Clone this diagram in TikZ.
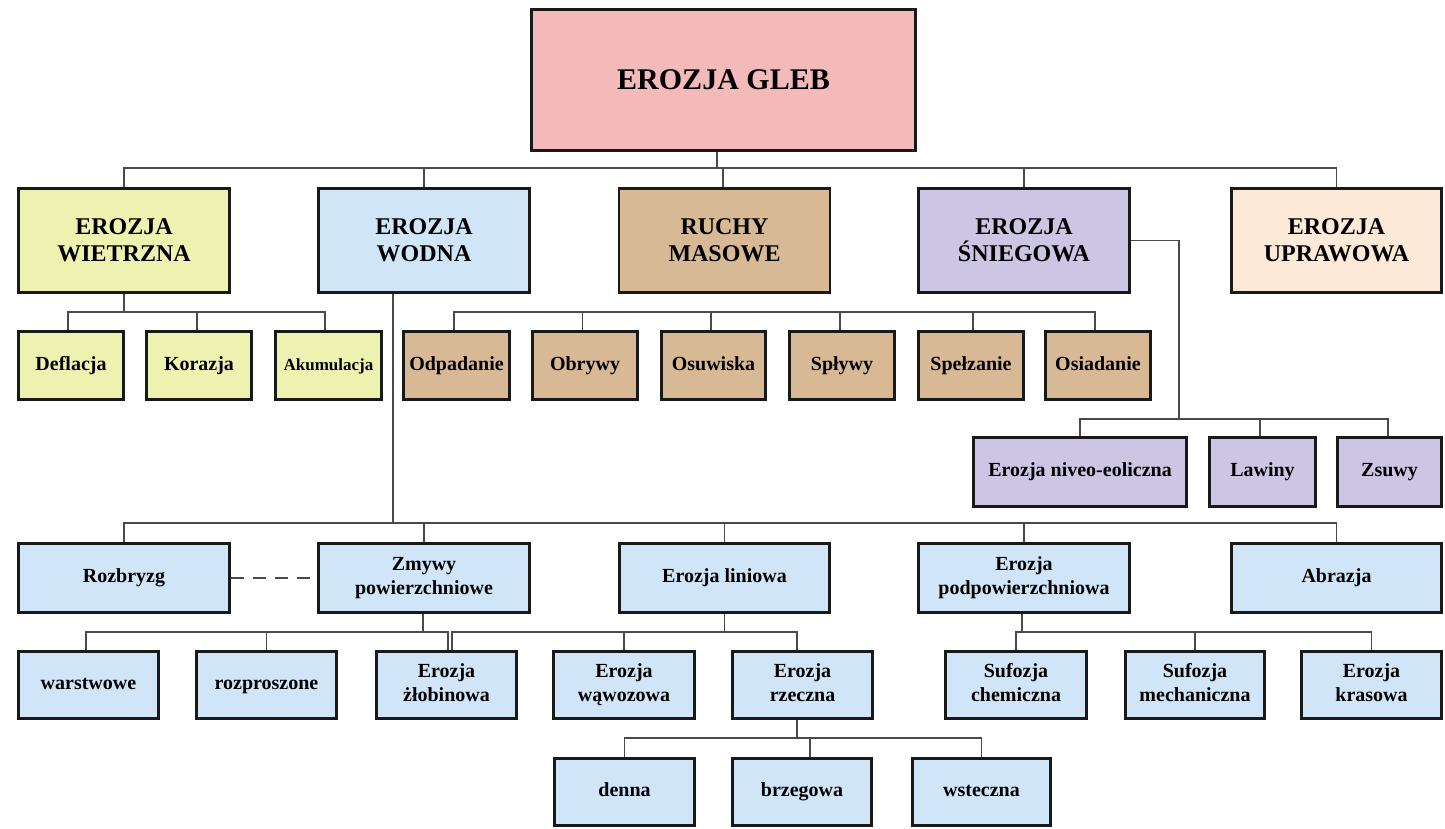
\documentclass[tikz,border=0pt]{standalone}
\usepackage{fontspec}
\setmainfont{Liberation Serif}
\definecolor{cpink}{HTML}{F4B9B9}
\definecolor{cyel}{HTML}{EEF2B1}
\definecolor{cblue}{HTML}{D0E6F8}
\definecolor{ctan}{HTML}{D8B996}
\definecolor{clav}{HTML}{CCC5E3}
\definecolor{cpeach}{HTML}{FCE9D8}
\definecolor{conncol}{HTML}{4A4A4A}
\tikzset{
  box/.style={draw=black!90, line width=2.6pt, inner sep=0pt, align=center,
    font=\bfseries\fontsize{20}{24}\selectfont},
  big/.style={font=\bfseries\fontsize{24}{27}\selectfont},
  conn/.style={draw=conncol, line width=1.5pt},
}
\begin{document}
\begin{tikzpicture}[x=1pt,y=-1pt]
\useasboundingbox (0,0) rectangle (1445,829);
% root
\node[box, fill=cpink, minimum width=384pt, minimum height=141pt, font=\bfseries\fontsize{30}{34}\selectfont] (root) at (723.5,80) {EROZJA GLEB};
% level 1
\node[box, big, fill=cyel, minimum width=211pt, minimum height=104pt] (wiet) at (124,240.5) {EROZJA\\WIETRZNA};
\node[box, big, fill=cblue, minimum width=211pt, minimum height=104pt] (wodna) at (424,240.5) {EROZJA\\WODNA};
\node[box, big, fill=ctan, minimum width=211pt, minimum height=104pt] (ruchy) at (724.5,240.5) {RUCHY\\MASOWE};
\node[box, big, fill=clav, minimum width=211pt, minimum height=104pt] (snieg) at (1024,240.5) {EROZJA\\ŚNIEGOWA};
\node[box, big, fill=cpeach, minimum width=210pt, minimum height=104pt] (upraw) at (1336.5,240.5) {EROZJA\\UPRAWOWA};
% level 2 wietrzna
\node[box, fill=cyel, minimum width=105pt, minimum height=68pt] (defl) at (71,365.5) {\strut Deflacja};
\node[box, fill=cyel, minimum width=105pt, minimum height=68pt] (kora) at (199,365.5) {\strut Korazja};
\node[box, fill=cyel, minimum width=106pt, minimum height=68pt, font=\bfseries\fontsize{17}{24}\selectfont] (akum) at (328.5,365.5) {\strut Akumulacja};
% level 2 ruchy
\node[box, fill=ctan, minimum width=106pt, minimum height=68pt] (odpad) at (456.5,365.5) {\strut Odpadanie};
\node[box, fill=ctan, minimum width=105pt, minimum height=68pt] (obryw) at (585,365.5) {\strut Obrywy};
\node[box, fill=ctan, minimum width=104pt, minimum height=68pt] (osuw) at (713.5,365.5) {\strut Osuwiska};
\node[box, fill=ctan, minimum width=105pt, minimum height=68pt] (splyw) at (842,365.5) {\strut Spływy};
\node[box, fill=ctan, minimum width=105pt, minimum height=68pt] (spelz) at (971,365.5) {\strut Spełzanie};
\node[box, fill=ctan, minimum width=105pt, minimum height=68pt] (osiad) at (1098,365.5) {\strut Osiadanie};
% level 2 sniegowa
\node[box, fill=clav, minimum width=213pt, minimum height=69pt] (niveo) at (1080,472) {\strut Erozja niveo-eoliczna};
\node[box, fill=clav, minimum width=106pt, minimum height=69pt] (lawiny) at (1262.5,472) {\strut Lawiny};
\node[box, fill=clav, minimum width=104pt, minimum height=69pt] (zsuwy) at (1389.5,472) {\strut Zsuwy};
% level 3 wodna
\node[box, fill=cblue, minimum width=211pt, minimum height=69pt] (rozb) at (124,578) {\strut Rozbryzg};
\node[box, fill=cblue, minimum width=211pt, minimum height=69pt] (zmywy) at (424,578) {\strut Zmywy\\\strut powierzchniowe};
\node[box, fill=cblue, minimum width=210pt, minimum height=69pt] (linio) at (724.5,578) {\strut Erozja liniowa};
\node[box, fill=cblue, minimum width=211pt, minimum height=69pt] (podp) at (1024,578) {\strut Erozja\\\strut podpowierzchniowa};
\node[box, fill=cblue, minimum width=210pt, minimum height=69pt] (abraz) at (1336.5,578) {\strut Abrazja};
% level 4
\node[box, fill=cblue, minimum width=140pt, minimum height=67pt] (warst) at (88.5,685) {\strut warstwowe};
\node[box, fill=cblue, minimum width=140pt, minimum height=67pt] (rozpr) at (266.5,685) {\strut rozproszone};
\node[box, fill=cblue, minimum width=140pt, minimum height=67pt] (zlob) at (446.5,685) {\strut Erozja\\\strut żłobinowa};
\node[box, fill=cblue, minimum width=141pt, minimum height=67pt] (wawoz) at (624,685) {\strut Erozja\\\strut wąwozowa};
\node[box, fill=cblue, minimum width=140pt, minimum height=67pt] (rzecz) at (802.5,685) {\strut Erozja\\\strut rzeczna};
\node[box, fill=cblue, minimum width=141pt, minimum height=67pt] (sufch) at (1016,685) {\strut Sufozja\\\strut chemiczna};
\node[box, fill=cblue, minimum width=139pt, minimum height=67pt] (sufme) at (1195,685) {\strut Sufozja\\\strut mechaniczna};
\node[box, fill=cblue, minimum width=140pt, minimum height=67pt] (kras) at (1371.5,685) {\strut Erozja\\\strut krasowa};
% level 5
\node[box, fill=cblue, minimum width=140pt, minimum height=67pt] (denna) at (624.5,792) {\strut denna};
\node[box, fill=cblue, minimum width=139pt, minimum height=67pt] (brzeg) at (802,792) {\strut brzegowa};
\node[box, fill=cblue, minimum width=138pt, minimum height=67pt] (wstecz) at (981.5,792) {\strut wsteczna};
% row coordinates
\coordinate (r1) at (0,168);
\coordinate (r2) at (0,312);
\coordinate (r2s) at (0,419);
\coordinate (r3) at (0,523);
\coordinate (r4) at (0,632);
\coordinate (r5) at (0,738);
\coordinate (sj) at (1179,419);
% level 1 connectors
\draw[conn] ([xshift=-6.5pt]root.south) -- ([xshift=-6.5pt]root.south |- r1);
\draw[conn] (wiet.north) -- (wiet.north |- r1) -- (upraw.north |- r1) -- (upraw.north);
\draw[conn] (wodna.north) -- (wodna.north |- r1);
\draw[conn] ([xshift=-1.5pt]ruchy.north) -- ([xshift=-1.5pt]ruchy.north |- r1);
\draw[conn] (snieg.north) -- (snieg.north |- r1);
% wietrzna children
\draw[conn] (wiet.south) -- (wiet.south |- r2);
\draw[conn] ([xshift=-3pt]defl.north) -- ([xshift=-3pt]defl.north |- r2) -- ([xshift=-3.5pt]akum.north |- r2) -- ([xshift=-3.5pt]akum.north);
\draw[conn] ([xshift=-2pt]kora.north) -- ([xshift=-2pt]kora.north |- r2);
% ruchy children (no drop from parent)
\draw[conn] ([xshift=-2.5pt]odpad.north) -- ([xshift=-2.5pt]odpad.north |- r2) -- ([xshift=-3pt]osiad.north |- r2) -- ([xshift=-3pt]osiad.north);
\draw[conn] ([xshift=-2.5pt]obryw.north) -- ([xshift=-2.5pt]obryw.north |- r2);
\draw[conn] ([xshift=-2.5pt]osuw.north) -- ([xshift=-2.5pt]osuw.north |- r2);
\draw[conn] ([xshift=-2pt]splyw.north) -- ([xshift=-2pt]splyw.north |- r2);
\draw[conn] ([xshift=2pt]spelz.north) -- ([xshift=2pt]spelz.north |- r2);
% sniegowa children
\draw[conn] (snieg.east) -| (sj);
\draw[conn] (niveo.north) -- (niveo.north |- r2s) -- ([xshift=-1.5pt]zsuwy.north |- r2s) -- ([xshift=-1.5pt]zsuwy.north);
\draw[conn] ([xshift=-2.5pt]lawiny.north) -- ([xshift=-2.5pt]lawiny.north |- r2s);
% wodna children
\draw[conn] ([xshift=-31pt]wodna.south) -- ([xshift=-31pt]wodna.south |- r3);
\draw[conn] (rozb.north) -- (rozb.north |- r3) -- (abraz.north |- r3) -- (abraz.north);
\draw[conn] (zmywy.north) -- (zmywy.north |- r3);
\draw[conn] (linio.north) -- (linio.north |- r3);
\draw[conn] (podp.north) -- (podp.north |- r3);
\draw[conn, dash pattern=on 13pt off 9pt] (rozb.east) -- (zmywy.west);
% zmywy children
\draw[conn] ([xshift=-1pt]zmywy.south) -- ([xshift=-1pt]zmywy.south |- r4);
\draw[conn] ([xshift=-2.5pt]warst.north) -- ([xshift=-2.5pt]warst.north |- r4) -- ([xshift=1.5pt]zlob.north |- r4) -- ([xshift=1.5pt]zlob.north);
\draw[conn] (rozpr.north) -- (rozpr.north |- r4);
% liniowa children
\draw[conn] (linio.south) -- (linio.south |- r4);
\draw[conn] ([xshift=5.5pt]zlob.north) -- ([xshift=5.5pt]zlob.north |- r4) -- ([xshift=-5.5pt]rzecz.north |- r4) -- ([xshift=-5.5pt]rzecz.north);
\draw[conn] (wawoz.north) -- (wawoz.north |- r4);
% podpowierzchniowa children
\draw[conn] ([xshift=-2pt]podp.south) -- ([xshift=-2pt]podp.south |- r4);
\draw[conn] (sufch.north) -- (sufch.north |- r4) -- (kras.north |- r4) -- (kras.north);
\draw[conn] (sufme.north) -- (sufme.north |- r4);
% rzeczna children
\draw[conn] ([xshift=-5.5pt]rzecz.south) -- ([xshift=-5.5pt]rzecz.south |- r5);
\draw[conn] (denna.north) -- (denna.north |- r5) -- (wstecz.north |- r5) -- (wstecz.north);
\draw[conn] ([xshift=8pt]brzeg.north) -- ([xshift=8pt]brzeg.north |- r5);
\end{tikzpicture}
\end{document}
